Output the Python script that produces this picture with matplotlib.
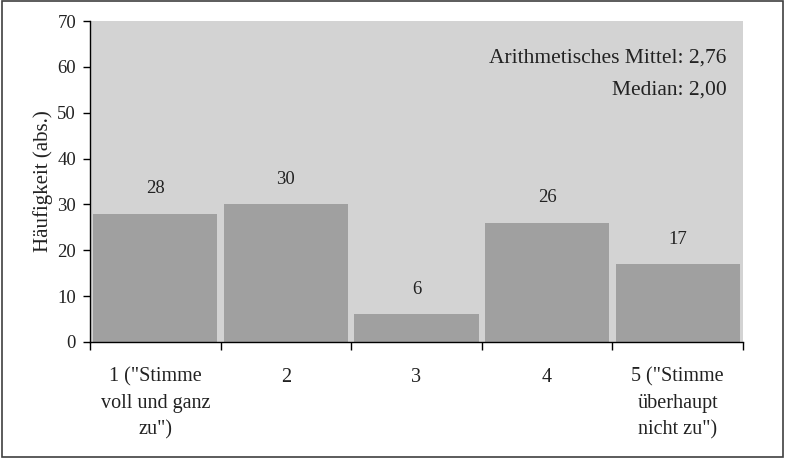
import matplotlib
matplotlib.use("Agg")
import matplotlib.pyplot as plt
from matplotlib.patches import Rectangle

categories = ['1 ("Stimme\nvoll und ganz\nzu")', '2', '3', '4', '5 ("Stimme\nüberhaupt\nnicht zu")']
values = [28, 30, 6, 26, 17]
yticks = [0, 10, 20, 30, 40, 50, 60, 70]
stats_text = ["Arithmetisches Mittel: 2,76", "Median: 2,00"]

plt.rcParams['font.family'] = ['Liberation Serif', 'DejaVu Serif']
fig = plt.figure(figsize=(7.85, 4.58), dpi=100)
ax = fig.add_axes([90/785, 1-342/458, (743-90)/785, (342-21)/458])
ax.set_facecolor('#D3D3D3')

txt = '#222222'
x = list(range(len(values)))
ax.bar(x, values, width=0.95, color='#A0A0A0', zorder=2)
for xi, v in zip(x, values):
    ax.annotate(str(v), (xi, v), xytext=(0, 18), textcoords='offset points',
                ha='center', va='center', fontsize=13.5, color=txt)

ax.set_xlim(-0.5, len(values) - 0.5)
ax.set_ylim(0, 70)
ax.set_yticks(yticks)
ax.set_yticklabels([str(t) for t in yticks], fontsize=13.5, color=txt)
ax.set_xticks([i - 0.5 for i in range(len(values) + 1)])
ax.set_xticklabels([])
ax.tick_params(axis='both', direction='out', length=5, width=1, color='black', pad=5)
ax.tick_params(axis='x', length=6)
for i, c in enumerate(categories):
    ax.text(i, -0.08, c, transform=ax.get_xaxis_transform(), ha='center', va='top',
            fontsize=14.5, color=txt, linespacing=1.5)

for s in ['top', 'right']:
    ax.spines[s].set_visible(False)
ax.spines['left'].set_linewidth(1)
ax.spines['bottom'].set_linewidth(1)

ax.set_ylabel('Häufigkeit (abs.)', fontsize=15, color=txt, labelpad=3)

ax.text(0.975, 0.885, stats_text[0], transform=ax.transAxes, ha='right', va='center',
        fontsize=15.5, color=txt)
ax.text(0.975, 0.785, stats_text[1], transform=ax.transAxes, ha='right', va='center',
        fontsize=15.5, color=txt)

fig.patches.append(Rectangle((0.003, 0.003), 0.994, 0.994, transform=fig.transFigure,
                             fill=False, edgecolor='#404040', linewidth=1.2))

fig.savefig('out.png', dpi=100)
